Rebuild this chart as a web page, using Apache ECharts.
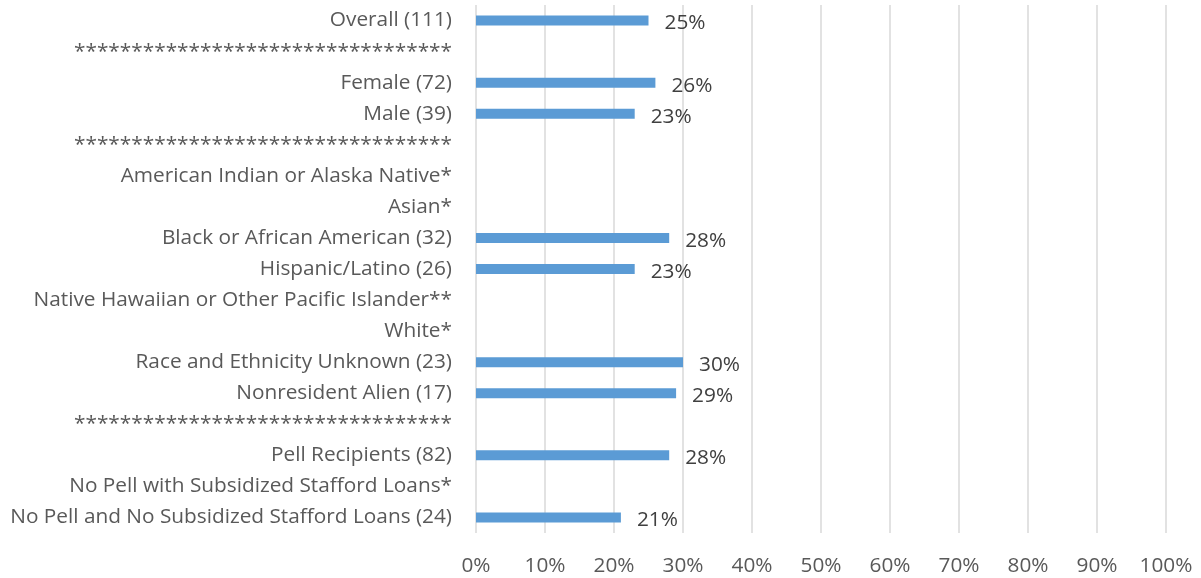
<!DOCTYPE html>
<html>
<head>
<meta charset="utf-8">
<script src="https://cdn.jsdelivr.net/npm/echarts@6/dist/echarts.min.js"></script>
<style>
  html, body { margin: 0; padding: 0; background: #fff; }
  #chart { width: 1201px; height: 578px; }
</style>
</head>
<body>
<div id="chart"></div>
<script>
var stars = '*********************************';

var categories = [
    'Overall (111)',
    stars,
    'Female (72)',
    'Male (39)',
    stars + ' ',
    'American Indian or Alaska Native*',
    'Asian*',
    'Black or African American (32)',
    'Hispanic/Latino (26)',
    'Native Hawaiian or Other Pacific Islander**',
    'White*',
    'Race and Ethnicity Unknown (23)',
    'Nonresident Alien (17)',
    stars + '  ',
    'Pell Recipients (82)',
    'No Pell with Subsidized Stafford Loans*',
    'No Pell and No Subsidized Stafford Loans (24)'
];

var values = [25, null, 26, 23, null, null, null, 28, 23, null, null, 30, 29, null, 28, null, 21];

var myChart = echarts.init(document.getElementById('chart'));

var option = {
    animation: false,
    grid: {
        left: 476,
        right: 35,
        top: 5,
        bottom: 45,
        containLabel: false
    },
    xAxis: {
        type: 'value',
        min: 0,
        max: 100,
        interval: 10,
        axisLine: { show: false },
        axisTick: { show: false },
        axisLabel: {
            formatter: '{value}%',
            color: '#595959',
            fontSize: 20.8,
            fontFamily: 'Open Sans',
            margin: 23
        },
        splitLine: { lineStyle: { color: '#d9d9d9', width: 1.5 } }
    },
    yAxis: {
        type: 'category',
        inverse: true,
        data: categories,
        axisLine: { show: false },
        axisTick: { show: false },
        axisLabel: {
            color: '#595959',
            fontSize: 20.8,
            fontFamily: 'Open Sans',
            margin: 24,
            formatter: function (v) { return v.trim(); }
        }
    },
    series: [{
        type: 'bar',
        data: values,
        barWidth: 10,
        itemStyle: { color: '#5b9bd5' },
        label: {
            show: true,
            position: 'right',
            distance: 16,
            offset: [0, 3],
            color: '#404040',
            fontSize: 20.8,
            fontFamily: 'Open Sans',
            formatter: function (p) { return p.value == null ? '' : p.value + '%'; }
        }
    }]
};

myChart.setOption(option);
</script>
</body>
</html>
